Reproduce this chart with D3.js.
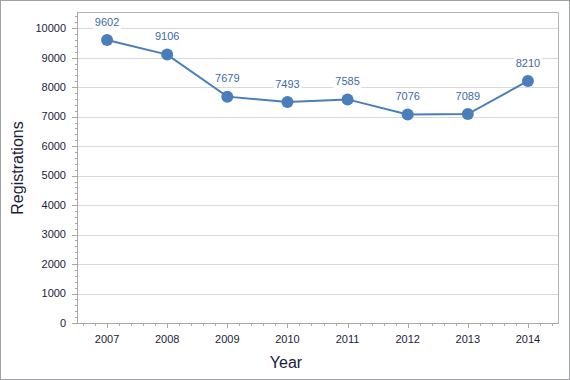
<!DOCTYPE html>
<html><head><meta charset="utf-8">
<script src="https://cdn.jsdelivr.net/npm/d3@7"></script>
<style>body{margin:0;background:#fff}svg{display:block}</style>
</head><body>
<script>
const years = ["2007","2008","2009","2010","2011","2012","2013","2014"];
const registrations = [9602, 9106, 7679, 7493, 7585, 7076, 7089, 8210];
const yTicks = [0,1000,2000,3000,4000,5000,6000,7000,8000,9000,10000];

const W = 570, H = 380;
const m = {left:77, right:12, top:12, bottom:57};
const svg = d3.select("body").append("svg").attr("width",W).attr("height",H);
svg.append("rect").attr("x",0.5).attr("y",0.5).attr("width",W-1).attr("height",H-1)
  .attr("fill","#fff").attr("stroke","#a0a0a8");

const x = d3.scaleBand().domain(years).range([m.left, W-m.right]);
const y = d3.scaleLinear().domain([0,10550]).range([H-m.bottom, m.top]);
const font = "'Liberation Sans', Arial, sans-serif";
const textCol = "#1c1c3c";

// gridlines
svg.append("g").selectAll("line").data(yTicks.filter(d=>d>0)).join("line")
  .attr("x1",m.left).attr("x2",W-m.right)
  .attr("y1",d=>Math.round(y(d))+0.5).attr("y2",d=>Math.round(y(d))+0.5)
  .attr("stroke","#d9d9d9");

// plot border (top, right)
svg.append("path").attr("d",`M${m.left+0.5},${m.top+0.5}H${W-m.right+0.5}V${H-m.bottom+0.5}`)
  .attr("fill","none").attr("stroke","#b4b4b4");

// y axis
const yMinor = d3.range(0,10550,200);
svg.append("g").selectAll("line").data(yMinor).join("line")
  .attr("x1",d=> d%1000===0 ? m.left-5 : m.left-2).attr("x2",m.left)
  .attr("y1",d=>Math.round(y(d))+0.5).attr("y2",d=>Math.round(y(d))+0.5)
  .attr("stroke","#a8a8a8");
svg.append("line").attr("x1",m.left+0.5).attr("x2",m.left+0.5).attr("y1",m.top).attr("y2",H-m.bottom+1)
  .attr("stroke","#a8a8a8");
svg.append("g").selectAll("text").data(yTicks).join("text")
  .attr("x",m.left-11).attr("y",d=>y(d)).attr("dy","0.35em")
  .attr("text-anchor","end").attr("font-family",font).attr("font-size",11).attr("fill",textCol)
  .text(d=>d);

// x axis
const bw = x.bandwidth();
const xMinor = [];
years.forEach(yr=>{ for(let k=-2;k<=2;k++){ xMinor.push({p:x(yr)+bw/2+k*bw/5, major:k===0}); } });
svg.append("line").attr("x1",m.left).attr("x2",W-m.right+1).attr("y1",H-m.bottom+0.5).attr("y2",H-m.bottom+0.5)
  .attr("stroke","#a8a8a8");
svg.append("g").selectAll("line").data(xMinor.filter(d=>d.p>m.left+1 && d.p<W-m.right)).join("line")
  .attr("x1",d=>Math.round(d.p)+0.5).attr("x2",d=>Math.round(d.p)+0.5)
  .attr("y1",H-m.bottom).attr("y2",d=>H-m.bottom+(d.major?5:3))
  .attr("stroke","#a8a8a8");
svg.append("g").selectAll("text").data(years).join("text")
  .attr("x",d=>x(d)+bw/2).attr("y",H-m.bottom+20)
  .attr("text-anchor","middle").attr("font-family",font).attr("font-size",11).attr("fill",textCol)
  .text(d=>d);

// titles
svg.append("text").attr("x",286).attr("y",368).attr("text-anchor","middle")
  .attr("font-family",font).attr("font-size",16).attr("fill",textCol).text("Year");
svg.append("text").attr("transform","translate(23,168) rotate(-90)").attr("text-anchor","middle")
  .attr("font-family",font).attr("font-size",16).attr("fill",textCol).text("Registrations");

// line
const pts = years.map((yr,i)=>({yr, v:registrations[i]}));
svg.append("path").datum(pts)
  .attr("d", d3.line().x(d=>x(d.yr)+bw/2).y(d=>y(d.v)))
  .attr("fill","none").attr("stroke","#4a7ebb").attr("stroke-width",2);
svg.append("g").selectAll("circle").data(pts).join("circle")
  .attr("cx",d=>x(d.yr)+bw/2).attr("cy",d=>y(d.v)).attr("r",6)
  .attr("fill","#4a7ebb");

// data labels
const lg = svg.append("g").selectAll("g").data(pts).join("g")
  .attr("transform",d=>`translate(${x(d.yr)+bw/2},${y(d.v)-18})`);
lg.append("rect").attr("x",-14).attr("y",-7).attr("width",28).attr("height",14).attr("fill","#fff");
lg.append("text").attr("text-anchor","middle").attr("dy","0.35em")
  .attr("font-family",font).attr("font-size",11).attr("fill","#3d6aa6").text(d=>d.v);
</script>
</body></html>
